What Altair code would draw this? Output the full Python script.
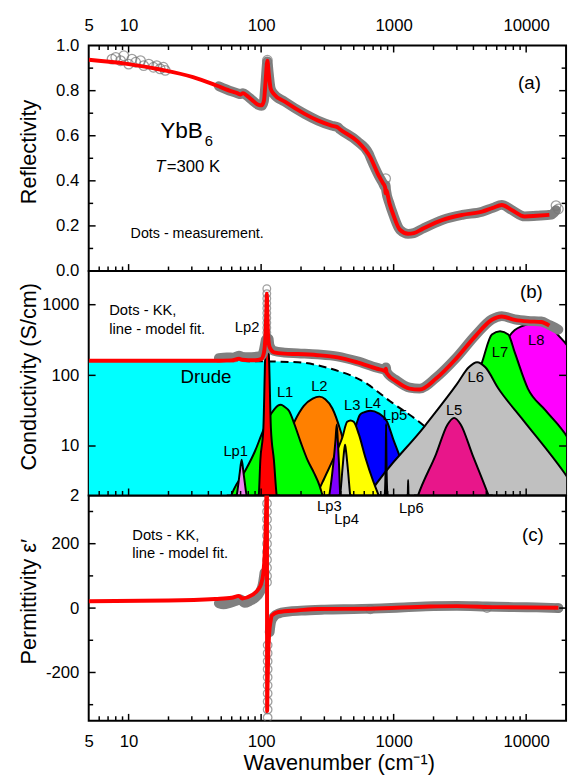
import altair as alt
import pandas as pd

# ------------------------------------------------------------------ data
X_DOMAIN = [5, 20000]
X_LABELS = [5, 10, 100, 1000, 10000]
X_MAJOR = [10, 100, 1000, 10000]
X_MINOR = [6, 7, 8, 9, 20, 30, 40, 50, 60, 70, 80, 90, 200, 300, 400, 500,
           600, 700, 800, 900, 2000, 3000, 4000, 5000, 6000, 7000, 8000, 9000]

# ---- (a) reflectivity
A_Y_LABELS = [0, 0.2, 0.4, 0.6, 0.8, 1.0]
A_Y_MAJOR = [0.2, 0.4, 0.6, 0.8]
A_Y_MINOR = [0.1, 0.3, 0.5, 0.7, 0.9]
A_MODEL_W = [5, 10, 17.3, 30.6, 45.6, 60, 66, 70, 73, 78, 86, 95.6, 101, 105, 108, 111.5,
             114, 118, 124, 151, 213, 267, 340, 377, 395, 531, 667, 770, 830, 863, 868,
             876, 930, 995, 1115, 1286, 1420, 1663, 2344, 3300, 4645, 5600, 6546, 7770,
             9750, 12000, 14960]
A_MODEL_R = [0.937, 0.918, 0.894, 0.860, 0.824, 0.797, 0.789, 0.783, 0.789, 0.778, 0.757,
             0.737, 0.735, 0.755, 0.84, 0.933, 0.88, 0.81, 0.787, 0.751, 0.697, 0.668,
             0.645, 0.638, 0.628, 0.576, 0.504, 0.424, 0.39, 0.37, 0.345, 0.36, 0.30,
             0.249, 0.183, 0.165, 0.168, 0.188, 0.227, 0.249, 0.263, 0.28, 0.293, 0.271,
             0.242, 0.245, 0.249]
A_MEAS_W = [48, 60, 66, 70, 73, 78, 86, 95.6, 101, 105, 108, 111.5, 114, 118, 124, 151,
            213, 267, 340, 377, 395, 531, 650, 667, 770, 830, 863, 870, 876, 930, 995,
            1115, 1286, 1420, 1663, 2344, 3300, 4645, 5600, 6546, 7770, 9750, 12000,
            15500, 16800]
A_MEAS_R = [0.82, 0.797, 0.789, 0.785, 0.789, 0.778, 0.757, 0.737, 0.733, 0.755, 0.84,
            0.93, 0.88, 0.81, 0.787, 0.751, 0.697, 0.668, 0.645, 0.638, 0.628, 0.576,
            0.52, 0.504, 0.424, 0.39, 0.372, 0.38, 0.36, 0.30, 0.249, 0.183, 0.165,
            0.168, 0.188, 0.227, 0.249, 0.263, 0.28, 0.293, 0.271, 0.242, 0.245, 0.25,
            0.27]
A_PTS_W = [7.5, 8.0, 8.7, 9.2, 10.0, 10.6, 11.3, 12.3, 13.0, 14.2, 15.4, 16.3, 17.3,
           18.3, 18.9, 111.5, 870, 16800, 17500]
A_PTS_R = [0.94, 0.948, 0.933, 0.955, 0.918, 0.94, 0.926, 0.933, 0.911, 0.918, 0.904,
           0.911, 0.897, 0.904, 0.89, 0.935, 0.41, 0.29, 0.275]

# ---- (b) conductivity
B_Y_LABELS = [2, 10, 100, 1000]
B_Y_MAJOR = [10, 100, 1000]
B_MODEL_W = [5, 45, 60, 68, 72, 80, 90, 100, 105, 108, 109.6, 110.4, 111.3, 113, 116, 125,
             150, 190, 267, 377, 531, 750, 850, 868, 874, 885, 1060, 1320, 1567, 2090,
             2940, 4140, 5510, 6546, 8200, 10300, 12970, 14960]
B_MODEL_S = [161, 161, 163, 172, 166, 164, 164, 170, 210, 380, 900, 1435, 800, 350, 250,
             212, 203, 200, 193, 180, 153, 124, 116, 113, 124, 108, 81, 65, 63, 90, 170,
             360, 611, 681, 611, 581, 570, 505]
B_MEAS_W = [48, 55, 62, 68, 72, 80, 90, 100, 105, 108.5,
            114, 116, 125, 150, 190, 267, 377, 531, 750, 850, 868, 874, 885, 1060, 1320,
            1567, 2090, 2940, 4140, 5510, 6546, 8200, 10300, 12970, 14960, 17500]
B_MEAS_S = [176, 180, 178, 190, 183, 181, 183, 188, 230, 320,
            330, 262, 222, 210, 205, 198, 185, 158, 128, 120, 118, 130, 112, 84, 67, 65,
            93, 174, 368, 620, 690, 620, 590, 578, 515, 445]
B_MEAS_SEG = [1] * 10 + [2] * 26
B_PTS_W = [110.4] * 12
B_PTS_S = [1683, 1435, 1225, 1045, 892, 761, 649, 554, 472, 403, 344, 293]
DRUDE_W = [5, 50, 100, 190, 336, 596, 940, 1710, 3000, 5000, 8000]
DRUDE_S = [161, 160, 158, 153, 124, 81, 43, 19, 6.6, 2.3, 1.0]

PEAK_W = {
    "L8": [4000, 5500, 7330, 9200, 11900, 15400, 17300, 20500, 30000],
    "L7": [2000, 3000, 4000, 4645, 5510, 6350, 7330, 8200, 10300, 14000, 20500, 30000],
    "L4": [370, 430, 500, 558, 596, 667, 770, 888, 1000, 1115, 1250, 1450],
    "L2": [100, 120, 150, 179, 210, 245, 275, 305, 345, 398, 450, 520, 600],
    "L6": [600, 667, 1710, 3000, 3690, 4266, 4920, 6170, 9200, 20500, 30000],
    "L5": [1450, 1528, 2090, 2553, 2858, 3205, 3916, 5200, 5500],
    "L3": [250, 267, 300, 356, 410, 446, 473, 500, 546, 611, 700, 770, 800],
    "L1": [56, 62, 76, 90, 101, 115, 124, 133, 141, 150, 163, 179, 200, 225, 250, 275, 300],
    "Lp1": [63, 66, 69, 71.3, 73.6, 77, 80],
    "Lp2": [93, 96, 98.6, 104, 107, 109.3, 110.4, 111.5, 115, 118.5, 125, 131, 136],
    "Lp3": [318, 327, 350, 364, 372, 379, 387, 395, 402],
    "Lp4": [388, 395, 412, 423, 430, 437, 450, 470, 478],
    "Lp5": [845, 862, 872, 877, 882, 892, 910],
    "Lp6": [1268, 1280, 1286, 1292, 1305],
}
PEAK_S = {
    "L8": [3, 30, 340, 495, 551, 495, 378, 261, 60],
    "L7": [1.5, 12, 70, 153, 378, 422, 378, 211, 65, 32, 13.2, 3],
    "L4": [1.5, 5, 15, 27.9, 30, 31.6, 29, 22.4, 12, 6.95, 3.5, 1.5],
    "L2": [1.5, 3.5, 10, 22.4, 37, 47, 50, 46, 34, 16.3, 7, 3, 1.5],
    "L6": [1.6, 2.2, 19, 75, 130, 153, 130, 65, 25, 3.6, 1.2],
    "L5": [1.5, 2, 7.7, 20.2, 25, 20.2, 7.7, 2, 1.5],
    "L3": [1.5, 2.15, 3.5, 7.0, 13.2, 22, 23, 22, 14.7, 6.95, 3.2, 2.0, 1.6],
    "L1": [1.5, 2.4, 4.5, 8.5, 14.7, 26, 32, 37, 38.3, 36, 31, 20, 11, 6.2, 4.2, 2.8, 1.6],
    "Lp1": [1.4, 2.2, 4.2, 6.4, 4.2, 2.2, 1.4],
    "Lp2": [1.5, 2, 6.2, 18, 153, 500, 940, 500, 153, 18, 6.2, 2, 1.5],
    "Lp3": [1.5, 2, 5.5, 12, 20.2, 12, 5.5, 2, 1.5],
    "Lp4": [1.5, 2, 5, 8.5, 10.4, 8.5, 5, 2, 1.5],
    "Lp5": [1.5, 2.5, 7, 20.6, 7, 2.5, 1.5],
    "Lp6": [1.5, 2.2, 3.3, 2.2, 1.5],
}
PEAK_ORDER = ["L8", "L7", "L4", "L2", "L6", "L5", "L3", "L1",
              "Lp1", "Lp2", "Lp3", "Lp4", "Lp5", "Lp6"]
PEAK_COLOR = {"L1": "#00FF00", "L2": "#FF8000", "L3": "#FFFF00", "L4": "#0000FF",
              "L5": "#E8168A", "L6": "#C0C0C0", "L7": "#00FF00", "L8": "#FF00FF",
              "Lp1": "#EE82EE", "Lp2": "#FF0000", "Lp3": "#8000FF", "Lp4": "#C8C8C8",
              "Lp5": "#000000", "Lp6": "#000000"}
B_LABEL_T = ["Lp2", "L1", "Lp1", "L2", "L3", "L4", "Lp5", "L5", "L6", "L7", "L8"]
B_LABEL_W = [78.3, 151.7, 64.3, 275, 487, 697, 1024, 2858, 4160, 6350, 11900]
B_LABEL_S = [484, 58.6, 8.6, 71, 38.3, 40.4, 27.1, 32.3, 94, 211, 316]

# ---- (c) permittivity
C_Y_LABELS = [-200, 0, 200]
C_Y_MAJOR = [-200, 0, 200]
C_Y_MINOR = [-300, -100, 100, 300]
C_MODEL_W = [5, 20, 45, 60, 68, 72, 85, 95.6, 100, 104, 106.5, 108.5, 110, 110.5, 111.0,
             111.7, 113, 115, 118, 120.5, 135, 190, 267, 667, 1860, 3000, 5840, 17500]
C_MODEL_E = [21.4, 23.5, 28.5, 32, 38, 30, 40, 59, 75, 110, 170, 263, 420, 700, -320,
             -250, -150, -80, -40, -23, -12, -7, -3, -2, 5, 6, 3, 1]
C_MEAS_W = [48, 52, 58, 64, 70, 75, 82, 90, 98, 103, 106,
            116, 119, 125, 135, 160, 200, 300, 500, 800, 1200, 2000, 3000, 5000, 8000,
            12000, 17500]
C_MEAS_E = [15, 12, 16, 22, 27, 16, 22, 32, 50, 75, 110,
            -75, -42, -26, -17, -11, -8, -5, -3, -1, 2, 6, 7, 5, 3, 2, 0]
C_MEAS_SEG = [1] * 11 + [2] * 16
C_PTS_W = [110.8] * 11 + [112] * 10 + [667, 5060, 17500]
C_PTS_E = [325, 300, 275, 250, 225, 200, 175, 150, 125, 100, 80,
           -340, -315, -290, -265, -240, -215, -190, -165, -140, -115, -4, 0, 0]
C_LABEL_T = ["Lp3", "Lp4", "Lp6"]
C_LABEL_W = [327, 442, 1361]
C_LABEL_E = [317, 276, 311]

# ------------------------------------------------------------------ styling
FONT = "Liberation Sans"
W = 485
HA, HB, HC = 229, 228, 229
RED = "#FF0000"
GRAY = "#808080"


def xscale():
    return alt.Scale(type="log", domain=X_DOMAIN, nice=False)


def make_x(axis):
    def f(field):
        return alt.X(f"{field}:Q", scale=xscale(), axis=axis)
    return f


def make_y(scale, axis):
    def f(field):
        return alt.Y(f"{field}:Q", scale=scale, axis=axis)
    return f


def y_axis(title, values, H, fmt=None, expr=None):
    kw = dict(orient="left", values=values, title=title, ticks=False, tickSize=0,
              domain=False, grid=False, labelOverlap=False, labelFlush=False,
              labelFontSize=17, labelPadding=10, titleFontSize=22, titleX=-54,
              titleY=H / 2 - 7, titleAngle=270, titleAlign="center",
              titleBaseline="alphabetic")
    if fmt:
        kw["format"] = fmt
    if expr:
        kw["labelExpr"] = expr
    return alt.Axis(**kw)


X_AXIS_TOP = alt.Axis(orient="top", values=X_LABELS, format="d", title=None, ticks=False,
                      tickSize=0, domain=False, grid=False, labelFlush=False,
                      labelOverlap=False, labelFontSize=17, labelPadding=15,
                      labelBaseline="alphabetic")
X_AXIS_BOTTOM = alt.Axis(orient="bottom", values=X_LABELS, format="d",
                         title="Wavenumber (cm⁻¹)", ticks=False, tickSize=0, domain=False,
                         grid=False, labelFlush=False, labelOverlap=False,
                         labelFontSize=17, labelPadding=26, labelBaseline="alphabetic",
                         titleFontSize=22, titleX=254, titleY=49,
                         titleBaseline="alphabetic", titleAlign="center")


def df(w, v, **extra):
    d = {"w": w, "v": v}
    d.update(extra)
    return pd.DataFrame(d)


def red_line(d, xe, ye):
    return alt.Chart(d).mark_line(color=RED, strokeWidth=4, interpolate="monotone",
                                  clip=True).encode(x=xe("w"), y=ye("v"))


def band(d, xe, ye):
    enc = dict(x=xe("w"), y=ye("v"))
    if "seg" in d.columns:
        enc["detail"] = "seg:N"
    return alt.Chart(d).mark_line(color=GRAY, strokeWidth=10, interpolate="monotone",
                                  strokeCap="round", strokeJoin="round",
                                  clip=True).encode(**enc)


def circles(d, xe, ye, size=85):
    return alt.Chart(d).mark_point(shape="circle", filled=False, color="#777777",
                                   size=size, strokeWidth=1.3, clip=True).encode(
        x=xe("w"), y=ye("v"))


def texts(d, xe, ye, size, align="left", baseline="alphabetic", style="normal"):
    return alt.Chart(d).mark_text(align=align, baseline=baseline, fontSize=size,
                                  fontStyle=style, color="black", font=FONT).encode(
        x=xe("w"), y=ye("v"), text="t:N")


def x_ticks(xe, H, top):
    out = []
    for vals, ln in ((X_MAJOR, 7), (X_MINOR, 4.5)):
        base = alt.Chart(pd.DataFrame({"v": vals})).mark_rule(color="black",
                                                              strokeWidth=1.5)
        out.append(base.encode(x=xe("v"), y=alt.value(H), y2=alt.value(H - ln)))
        if top:
            out.append(base.encode(x=xe("v"), y=alt.value(0), y2=alt.value(ln)))
    return out


def y_ticks(ye, major, minor):
    out = []
    for vals, ln in ((major, 7), (minor, 4.5)):
        if not vals:
            continue
        base = alt.Chart(pd.DataFrame({"v": vals})).mark_rule(color="black",
                                                              strokeWidth=1.5)
        out.append(base.encode(y=ye("v"), x=alt.value(0), x2=alt.value(ln)))
        out.append(base.encode(y=ye("v"), x=alt.value(W), x2=alt.value(W - ln)))
    return out


# ------------------------------------------------------------------ panel (a)
xa = make_x(X_AXIS_TOP)
ya = make_y(alt.Scale(domain=[0, 1], nice=False, zero=False),
            y_axis("Reflectivity", A_Y_LABELS, HA, fmt=".1f"))
layers_a = [
    band(df(A_MEAS_W, A_MEAS_R), xa, ya),
    circles(df(A_PTS_W, A_PTS_R), xa, ya, size=95),
    red_line(df(A_MODEL_W, A_MODEL_R), xa, ya),
    texts(df([17.3], [0.591], t=["YbB"]), xa, ya, 23),
    texts(df([37.5], [0.556], t=["6"]), xa, ya, 15),
    texts(df([15.87], [0.441], t=["T"]), xa, ya, 17, style="italic"),
    texts(df([19.4], [0.441], t=["=300 K"]), xa, ya, 17),
    texts(df([10.35], [0.148], t=["Dots - measurement."]), xa, ya, 14.5),
    texts(df([10600], [0.834], t=["(a)"]), xa, ya, 19, align="center",
          baseline="middle"),
] + x_ticks(xa, HA, True) + y_ticks(ya, A_Y_MAJOR, A_Y_MINOR)
panel_a = alt.layer(*layers_a).properties(width=W, height=HA)

# ------------------------------------------------------------------ panel (b)
xb = make_x(None)
yb = make_y(alt.Scale(type="log", domain=[2, 3000], nice=False),
            y_axis("Conductivity (S/cm)", B_Y_LABELS, HB, fmt="d"))
layers_b = [
    alt.Chart(df(DRUDE_W, DRUDE_S)).mark_area(color="#00FFFF", interpolate="monotone",
                                              clip=True).encode(
        x=xb("w"), y=yb("v"), y2=alt.datum(2)),
    alt.Chart(df(DRUDE_W, DRUDE_S)).mark_line(color="black", strokeWidth=2,
                                              strokeDash=[8, 5], interpolate="monotone",
                                              clip=True).encode(x=xb("w"), y=yb("v")),
]
for name in PEAK_ORDER:
    layers_b.append(
        alt.Chart(df(PEAK_W[name], PEAK_S[name])).mark_area(
            color=PEAK_COLOR[name], stroke="black", strokeWidth=2, fillOpacity=1,
            interpolate="monotone", clip=True).encode(
            x=xb("w"), y=yb("v"), y2=alt.datum(2)))
layers_b += [
    band(df(B_MEAS_W, B_MEAS_S, seg=B_MEAS_SEG), xb, yb),
    circles(df(B_PTS_W, B_PTS_S), xb, yb, size=60),
    red_line(df(B_MODEL_W, B_MODEL_S), xb, yb),
    texts(df(B_LABEL_W, B_LABEL_S, t=B_LABEL_T), xb, yb, 15, align="center",
          baseline="middle"),
    texts(df([38.4], [95], t=["Drude"]), xb, yb, 19, align="center", baseline="middle"),
    texts(df([7.14, 7.14], [718, 391], t=["Dots - KK,", "line - model fit."]), xb, yb, 15),
    texts(df([10940], [1517], t=["(b)"]), xb, yb, 19, align="center", baseline="middle"),
] + x_ticks(xb, HB, False) + y_ticks(yb, B_Y_MAJOR, [])
panel_b = alt.layer(*layers_b).properties(width=W, height=HB)

# ------------------------------------------------------------------ panel (c)
xc = make_x(X_AXIS_BOTTOM)
yc = make_y(alt.Scale(domain=[-350, 350], nice=False, zero=False),
            y_axis("Permittivity ε′", C_Y_LABELS, HC,
                   expr="datum.value < 0 ? '-' + format(-datum.value, 'd') : format(datum.value, 'd')"))
layers_c = [
    band(df(C_MEAS_W, C_MEAS_E, seg=C_MEAS_SEG), xc, yc),
    circles(df(C_PTS_W, C_PTS_E), xc, yc, size=75),
    red_line(df(C_MODEL_W, C_MODEL_E), xc, yc),
    texts(df(C_LABEL_T and C_LABEL_W, C_LABEL_E, t=C_LABEL_T), xc, yc, 15,
          align="center", baseline="middle"),
    texts(df([10.65, 10.65], [212, 156], t=["Dots - KK,", "line - model fit."]), xc, yc, 15),
    texts(df([11250], [227.5], t=["(c)"]), xc, yc, 19, align="center", baseline="middle"),
] + x_ticks(xc, HC, False) + y_ticks(yc, C_Y_MAJOR, C_Y_MINOR)
panel_c = alt.layer(*layers_c).properties(width=W, height=HC)

chart = alt.vconcat(panel_a, panel_b, panel_c, spacing=0, bounds="flush").resolve_scale(
    x="independent", y="independent"
).properties(
    padding={"left": 8, "top": 2, "right": 2, "bottom": 2}
).configure(font=FONT).configure_axis(
    labelFont=FONT, titleFont=FONT, labelColor="black", titleColor="black",
    titleFontWeight="normal"
).configure_view(stroke="black", strokeWidth=2)

chart.save("out.html", embed_options={"renderer": "svg", "actions": False})
